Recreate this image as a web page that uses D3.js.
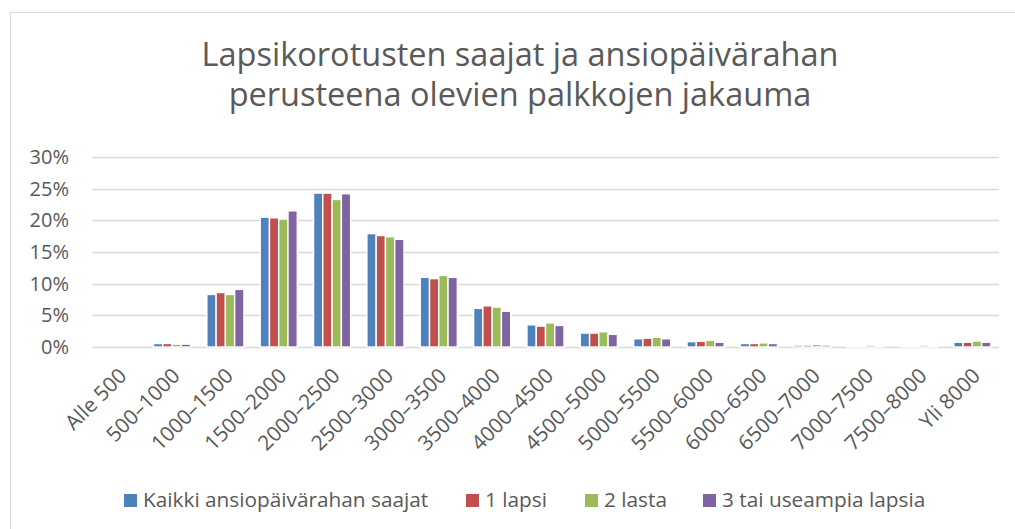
<!DOCTYPE html>
<html>
<head>
<meta charset="utf-8">
<script src="https://cdn.jsdelivr.net/npm/d3@7"></script>
<style>
  body { margin: 0; background: #fff; }
  svg { display: block; font-family: "Open Sans", Lato, sans-serif; }
</style>
</head>
<body>
<svg id="chart"></svg>
<script>
var categories = ['Alle 500', '500–1000', '1000–1500', '1500–2000', '2000–2500', '2500–3000',
	'3000–3500', '3500–4000', '4000–4500', '4500–5000', '5000–5500', '5500–6000',
	'6000–6500', '6500–7000', '7000–7500', '7500–8000', 'Yli 8000'];

var seriesNames = ['Kaikki ansiopäivärahan saajat', '1 lapsi', '2 lasta', '3 tai useampia lapsia'];
var seriesColors = ['#4f81bd', '#c0504d', '#9bbb59', '#8064a2'];

// shares in percent
var kaikki = [0, 0.55, 8.3, 20.5, 24.3, 17.9, 11.0, 6.1, 3.5, 2.2, 1.3, 0.85, 0.55, 0.3, 0.2, 0.15, 0.75];
var lapsi1 = [0, 0.55, 8.6, 20.4, 24.3, 17.6, 10.8, 6.5, 3.3, 2.2, 1.4, 0.9, 0.55, 0.3, 0.2, 0.15, 0.75];
var lasta2 = [0, 0.45, 8.3, 20.2, 23.3, 17.4, 11.3, 6.3, 3.8, 2.4, 1.55, 1.05, 0.65, 0.4, 0.3, 0.3, 0.95];
var lapsia3 = [0, 0.45, 9.1, 21.5, 24.2, 17.0, 11.0, 5.65, 3.4, 2.0, 1.3, 0.75, 0.55, 0.3, 0.2, 0.15, 0.75];

var yTicks = [0, 5, 10, 15, 20, 25, 30];
var titleLines = ['Lapsikorotusten saajat ja ansiopäivärahan', 'perusteena olevien palkkojen jakauma'];

var series = [kaikki, lapsi1, lasta2, lapsia3];

var W = 1015, H = 529;
var plot = { left: 92, right: 999, top: 157, bottom: 347 };
var textColor = '#595959';
var labelSize = '20.8px';

var svg = d3.select('#chart')
	.attr('width', W)
	.attr('height', H);

// chart frame
svg.append('rect')
	.attr('x', 10.5)
	.attr('y', 12.5)
	.attr('width', W + 10)
	.attr('height', H + 10)
	.style('fill', '#fff')
	.style('stroke', '#d9d9d9')
	.style('stroke-width', 1);

// title, one text per line
svg.append('g')
	.selectAll('text')
	.data(titleLines)
	.enter().append('text')
	.attr('x', 520)
	.attr('y', function(d, i) { return 66 + i * 40; })
	.attr('text-anchor', 'middle')
	.style('font-size', '32.5px')
	.style('fill', textColor)
	.text(function(d) { return d; });

var x = d3.scaleBand()
	.domain(categories)
	.range([plot.left, plot.right]);

var inner = d3.scaleBand()
	.domain(d3.range(series.length))
	.range([0, x.bandwidth() * 0.695]);

var y = d3.scaleLinear()
	.domain([0, 30])
	.range([plot.bottom, plot.top]);

// gridlines
svg.append('g')
	.selectAll('line')
	.data(yTicks)
	.enter().append('line')
	.attr('x1', plot.left)
	.attr('x2', plot.right)
	.attr('y1', function(d) { return Math.round(y(d)) + 0.5; })
	.attr('y2', function(d) { return Math.round(y(d)) + 0.5; })
	.style('stroke', '#d9d9d9')
	.style('stroke-width', 1.4);

// y axis labels
var yAxis = d3.axisLeft(y)
	.tickValues(yTicks)
	.tickSize(0)
	.tickPadding(0)
	.tickFormat(function(d) { return d + '%'; });

svg.append('g')
	.attr('transform', 'translate(69,0)')
	.call(yAxis)
	.call(function(g) { g.select('.domain').remove(); })
	.selectAll('text')
	.style('font-family', '"Open Sans", Lato, sans-serif')
	.style('font-size', '20px')
	.style('fill', textColor);

// bars
var groups = svg.append('g')
	.selectAll('g.series')
	.data(series)
	.enter().append('g')
	.attr('class', 'series')
	.style('fill', function(d, i) { return seriesColors[i]; });

groups.each(function(values, si) {
	d3.select(this).selectAll('rect')
		.data(values)
		.enter().append('rect')
		.attr('x', function(d, i) {
			return x(categories[i]) + (x.bandwidth() - inner.range()[1]) / 2 + inner(si);
		})
		.attr('width', inner.bandwidth())
		.attr('y', function(d) { return y(d); })
		.attr('height', function(d) { return y(0) - y(d); })
		.style('stroke', '#fff')
		.style('stroke-width', 1.4);
});

// x axis labels, rotated
svg.append('g')
	.selectAll('text')
	.data(categories)
	.enter().append('text')
	.attr('transform', function(d) {
		return 'translate(' + (x(d) + x.bandwidth() / 2 + 4) + ',372) rotate(-45)';
	})
	.attr('text-anchor', 'end')
	.attr('dy', '0.35em')
	.style('font-size', labelSize)
	.style('fill', textColor)
	.text(function(d) { return d; });

// legend
var legendX = [124, 466, 585, 703];
var legend = svg.append('g')
	.selectAll('g')
	.data(seriesNames)
	.enter().append('g')
	.attr('transform', function(d, i) { return 'translate(' + legendX[i] + ',494)'; });

legend.append('rect')
	.attr('width', 13)
	.attr('height', 13)
	.style('fill', function(d, i) { return seriesColors[i]; });

legend.append('text')
	.attr('x', 19)
	.attr('y', 13)
	.style('font-size', labelSize)
	.style('fill', textColor)
	.text(function(d) { return d; });
</script>
</body>
</html>
